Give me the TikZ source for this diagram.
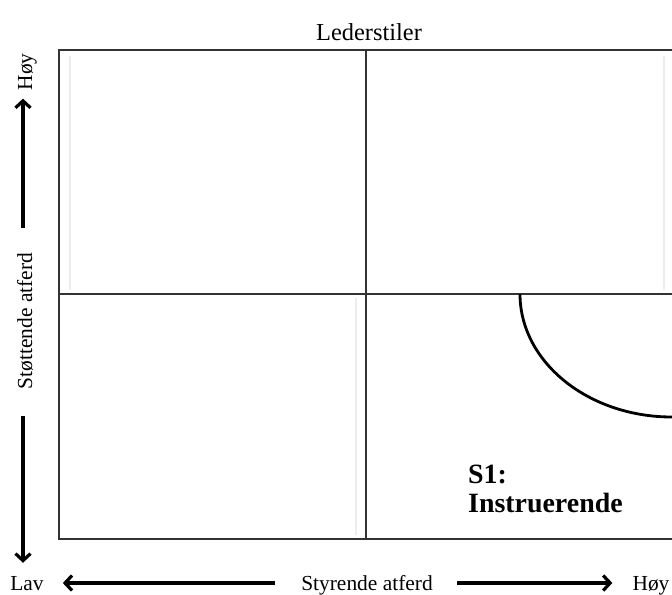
\documentclass[tikz,border=0pt]{standalone}
\usepackage{fontspec}
\setmainfont{Liberation Serif}
\usetikzlibrary{arrows.meta}

\begin{document}
\begin{tikzpicture}
[every node/.style={font=\fontsize{21.5}{25}\selectfont,inner sep=0pt},x=1bp,y=-1bp,
 axis/.style={line width=3.2bp,-{Straight Barb[length=7bp,width=15bp]}},
 frame/.style={line width=1.3bp,draw=black!80},
 ghost/.style={line width=1.2bp,draw=black!7}]
\clip (0,0) rectangle (672,595);
%faint edges of the quadrants
\draw[ghost] (70,56) -- (70,290);
\draw[ghost] (356,298) -- (356,535);
\draw[ghost] (664,56) -- (664,290);
\draw[frame] (59,50) rectangle (700,539);
\draw[frame] (366,50) -- (366,539);
\draw[frame] (59,294) -- (700,294);
\draw[line width=2.8bp] (520,294) arc[start angle=180,end angle=90,x radius=152,y radius=123];
\node (titel) at (369,41) [anchor=base,font=\fontsize{24.5}{28}\selectfont] {Lederstiler};
\node (hoyV) at (32,72) [rotate=90,anchor=base] {Høy};
\node (stotte) at (32,321) [rotate=90,anchor=base] {Støttende atferd};
\node (lav) at (27,590) [anchor=base] {Lav};
\node (styr) at (367,590) [anchor=base] {Styrende atferd};
\node (hoyH) at (651,590) [anchor=base] {Høy};
\node (s1) at (468,483) [anchor=base west,font=\fontsize{28}{30}\bfseries] {S1:};
\node (instr) at (468,512) [anchor=base west,font=\fontsize{28}{30}\bfseries] {Instruerende};
%axis lines
\coordinate (vakse) at (23,0);
\coordinate (hakse) at (0,583);
\draw[axis] ([yshift=25bp]vakse |- stotte.east) -- ([yshift=-8bp]vakse |- hoyV.west);
\draw[axis] ([yshift=-27bp]vakse |- stotte.west) -- ([yshift=13bp]vakse |- lav.north);
\draw[axis] ([xshift=-26bp]styr.west |- hakse) -- ([xshift=19bp]lav.east |- hakse);
\draw[axis] ([xshift=24bp]styr.east |- hakse) -- ([xshift=-20bp]hoyH.west |- hakse);
\end{tikzpicture}
\end{document}
